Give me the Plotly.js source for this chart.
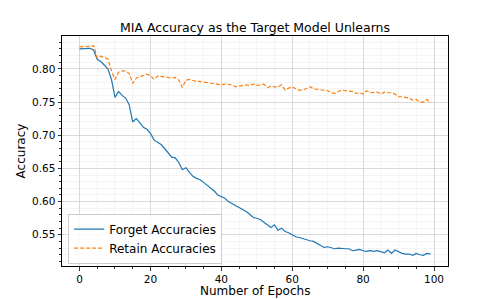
<!DOCTYPE html>
<html>
<head>
<meta charset="utf-8">
<script src="https://cdn.plot.ly/plotly-3.0.1.min.js"></script>
<style>html,body{margin:0;padding:0;background:#fff;}#chart{width:498px;height:299px;}</style>
</head>
<body>
<div id="chart"></div>
<script>
const epochs = Array.from({length: 100}, (_, i) => i);
const forgetAcc = [
0.830,0.830,0.831,0.831,0.828,0.814,0.811,0.806,0.800,0.784,
0.757,0.766,0.760,0.756,0.746,0.720,0.725,0.719,0.712,0.709,
0.703,0.693,0.690,0.686,0.680,0.673,0.667,0.666,0.659,0.648,
0.651,0.644,0.638,0.635,0.633,0.629,0.625,0.620,0.616,0.610,
0.607,0.605,0.600,0.597,0.595,0.592,0.588,0.585,0.581,0.576,
0.575,0.573,0.569,0.565,0.561,0.565,0.557,0.560,0.555,0.553,
0.550,0.547,0.546,0.544,0.542,0.541,0.540,0.537,0.533,0.531,
0.532,0.530,0.529,0.530,0.529,0.529,0.529,0.526,0.527,0.528,
0.526,0.525,0.526,0.525,0.526,0.525,0.523,0.527,0.522,0.527,
0.524,0.522,0.521,0.521,0.519,0.522,0.520,0.519,0.522,0.521
];
const retainAcc = [
0.833,0.833,0.834,0.834,0.835,0.816,0.819,0.817,0.815,0.797,
0.784,0.795,0.797,0.797,0.793,0.778,0.786,0.788,0.790,0.792,
0.790,0.784,0.789,0.789,0.788,0.787,0.786,0.787,0.783,0.772,
0.783,0.784,0.782,0.781,0.781,0.780,0.779,0.779,0.778,0.777,
0.776,0.777,0.776,0.776,0.773,0.774,0.774,0.776,0.775,0.777,
0.775,0.776,0.777,0.772,0.774,0.773,0.773,0.776,0.768,0.771,
0.773,0.770,0.768,0.768,0.770,0.773,0.770,0.769,0.768,0.767,
0.767,0.764,0.763,0.766,0.768,0.767,0.766,0.766,0.763,0.764,
0.762,0.767,0.764,0.765,0.765,0.762,0.765,0.764,0.764,0.762,
0.758,0.758,0.757,0.756,0.753,0.754,0.750,0.750,0.754,0.749
];
const seriesNames = ["Forget Accuracies", "Retain Accuracies"];
const chartTitle = "MIA Accuracy as the Target Model Unlearns";
const xTitle = "Number of Epochs";
const yTitle = "Accuracy";

const font = "DejaVu Sans, sans-serif";
const traces = [
  {x: epochs, y: forgetAcc, name: seriesNames[0], type: "scatter", mode: "lines",
   line: {color: "#1f77b4", width: 1.2}},
  {x: epochs, y: retainAcc, name: seriesNames[1], type: "scatter", mode: "lines",
   line: {color: "#ff7f0e", width: 1.2, dash: "4px,2px"}}
];
const axisCommon = {
  showline: true, linecolor: "#000", linewidth: 1, mirror: true,
  ticks: "outside", ticklen: 3.5, tickwidth: 0.8, tickcolor: "#000",
  showgrid: true, gridcolor: "#d0d0d0", gridwidth: 0.8, zeroline: false,
  tickfont: {family: font, size: 10.5, color: "#000"}
};
const layout = {
  width: 498, height: 299,
  margin: {l: 62, r: 50, t: 36, b: 33},
  paper_bgcolor: "#fff", plot_bgcolor: "#fff",
  font: {family: font, color: "#000"},
  title: {text: chartTitle, font: {family: font, size: 12.5, color: "#000"},
          x: 0.5, xanchor: "center", xref: "paper", y: 1, yref: "paper", yanchor: "bottom", pad: {b: 4}},
  xaxis: Object.assign({}, axisCommon, {
    range: [-4.95, 103.95], tickmode: "linear", tick0: 0, dtick: 20,
    minor: {dtick: 5, showgrid: true, gridcolor: "#ececec", gridwidth: 0.6, ticks: "outside", ticklen: 2, tickcolor: "#000"}
  }),
  yaxis: Object.assign({}, axisCommon, {
    range: [0.503, 0.8495], tickmode: "linear", tick0: 0.5, dtick: 0.05, tickformat: ".2f",
    minor: {dtick: 0.01, showgrid: true, gridcolor: "#ececec", gridwidth: 0.6, ticks: "outside", ticklen: 2, tickcolor: "#000"},
    title: {text: yTitle, font: {family: font, size: 12, color: "#000"}, standoff: 3}
  }),
  annotations: [{
    text: xTitle, xref: "paper", yref: "paper", x: 0.5, y: -0.1435,
    xanchor: "center", yanchor: "bottom", showarrow: false, borderpad: 0,
    font: {family: font, size: 12, color: "#000"}
  }],
  legend: {x: 0.016, y: 0.01, xanchor: "left", yanchor: "bottom",
           bgcolor: "rgba(255,255,255,0.85)", bordercolor: "#cccccc", borderwidth: 1,
           font: {family: font, size: 12, color: "#000"}, itemwidth: 30, tracegroupgap: 0},
  showlegend: true
};
Plotly.newPlot("chart", traces, layout, {staticPlot: true, displayModeBar: false});
</script>
</body>
</html>
